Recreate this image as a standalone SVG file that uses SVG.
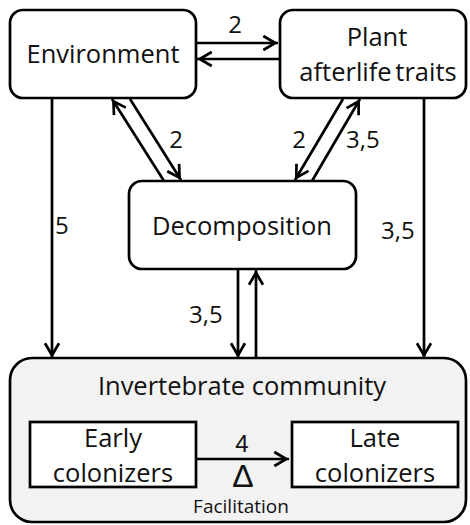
<svg xmlns="http://www.w3.org/2000/svg" width="470" height="525" viewBox="0 0 470 525">
  <style>
    .box { fill: #ffffff; stroke: #000000; stroke-width: 2.7; }
    .big { fill: #f2f2f2; stroke: #000000; stroke-width: 2.7; }
    .t { font-family: "Open Sans", "Liberation Sans", sans-serif; font-size: 25.5px; fill: #111111; text-anchor: middle; }
    .lbl { font-family: "Open Sans", "Liberation Sans", sans-serif; font-size: 24px; fill: #111111; text-anchor: middle; }
    .st { text-anchor: start; }
    .conn path { fill: none; stroke: #000000; stroke-width: 2.7; marker-end: url(#arr); }
  </style>
  <defs>
    <marker id="arr" markerUnits="userSpaceOnUse" markerWidth="20" markerHeight="20" viewBox="-17 -10 20 20" refX="0" refY="0" orient="auto">
      <path d="M-14.7,-7 L-2.7,0 L-14.7,7" fill="none" stroke="#000000" stroke-width="2.7" stroke-linejoin="miter"/>
    </marker>
  </defs>

  <g id="invertebrate-community">
    <rect class="big" x="10" y="358" width="456" height="164" rx="22"/>
    <text class="t" x="242" y="395">Invertebrate community</text>
  </g>

  <g id="environment">
    <rect class="box" x="10" y="10" width="186" height="88" rx="13"/>
    <text class="t" x="103" y="63">Environment</text>
  </g>

  <g id="plant-afterlife-traits">
    <rect class="box" x="280" y="10" width="186" height="88" rx="13"/>
    <text class="t" x="377" y="46">Plant</text>
    <text class="t" x="378" y="81" word-spacing="-3">afterlife traits</text>
  </g>

  <g id="decomposition">
    <rect class="box" x="129" y="181" width="227" height="88" rx="13"/>
    <text class="t" x="242" y="235">Decomposition</text>
  </g>

  <g id="early-colonizers">
    <rect class="box" x="30" y="422" width="166" height="65"/>
    <text class="t" x="113" y="447">Early</text>
    <text class="t" x="113" y="482">colonizers</text>
  </g>

  <g id="late-colonizers">
    <rect class="box" x="292" y="422" width="166" height="65"/>
    <text class="t" x="375" y="447">Late</text>
    <text class="t" x="375" y="482">colonizers</text>
  </g>

  <g id="connectors" class="conn">
    <path d="M197,43 L278,43"/>
    <path d="M279,59 L197,59"/>
    <path d="M130,99 L181,180"/>
    <path d="M164,181 L112,99"/>
    <path d="M343,99 L295,180"/>
    <path d="M312,181 L360,99"/>
    <path d="M52,99 L52,358"/>
    <path d="M424,99 L424,358"/>
    <path d="M238,269 L238,358"/>
    <path d="M256,358 L256,270"/>
    <path d="M197,459 L289,459"/>
  </g>

  <g id="labels">
    <text class="lbl" x="235" y="33">2</text>
    <text class="lbl" x="176" y="148">2</text>
    <text class="lbl" x="299" y="148">2</text>
    <text class="lbl st" x="346" y="148">3,5</text>
    <text class="lbl st" x="55" y="234">5</text>
    <text class="lbl st" x="381" y="239">3,5</text>
    <text class="lbl st" x="189" y="323">3,5</text>
    <text class="lbl" x="242" y="452" style="font-family:'Liberation Sans', sans-serif">4</text>
    <text class="lbl" x="243" y="487" style="font-family:'Liberation Sans', sans-serif; font-size:32px">Δ</text>
    <text class="lbl" x="241" y="513" style="font-size:19px">Facilitation</text>
  </g>
</svg>
